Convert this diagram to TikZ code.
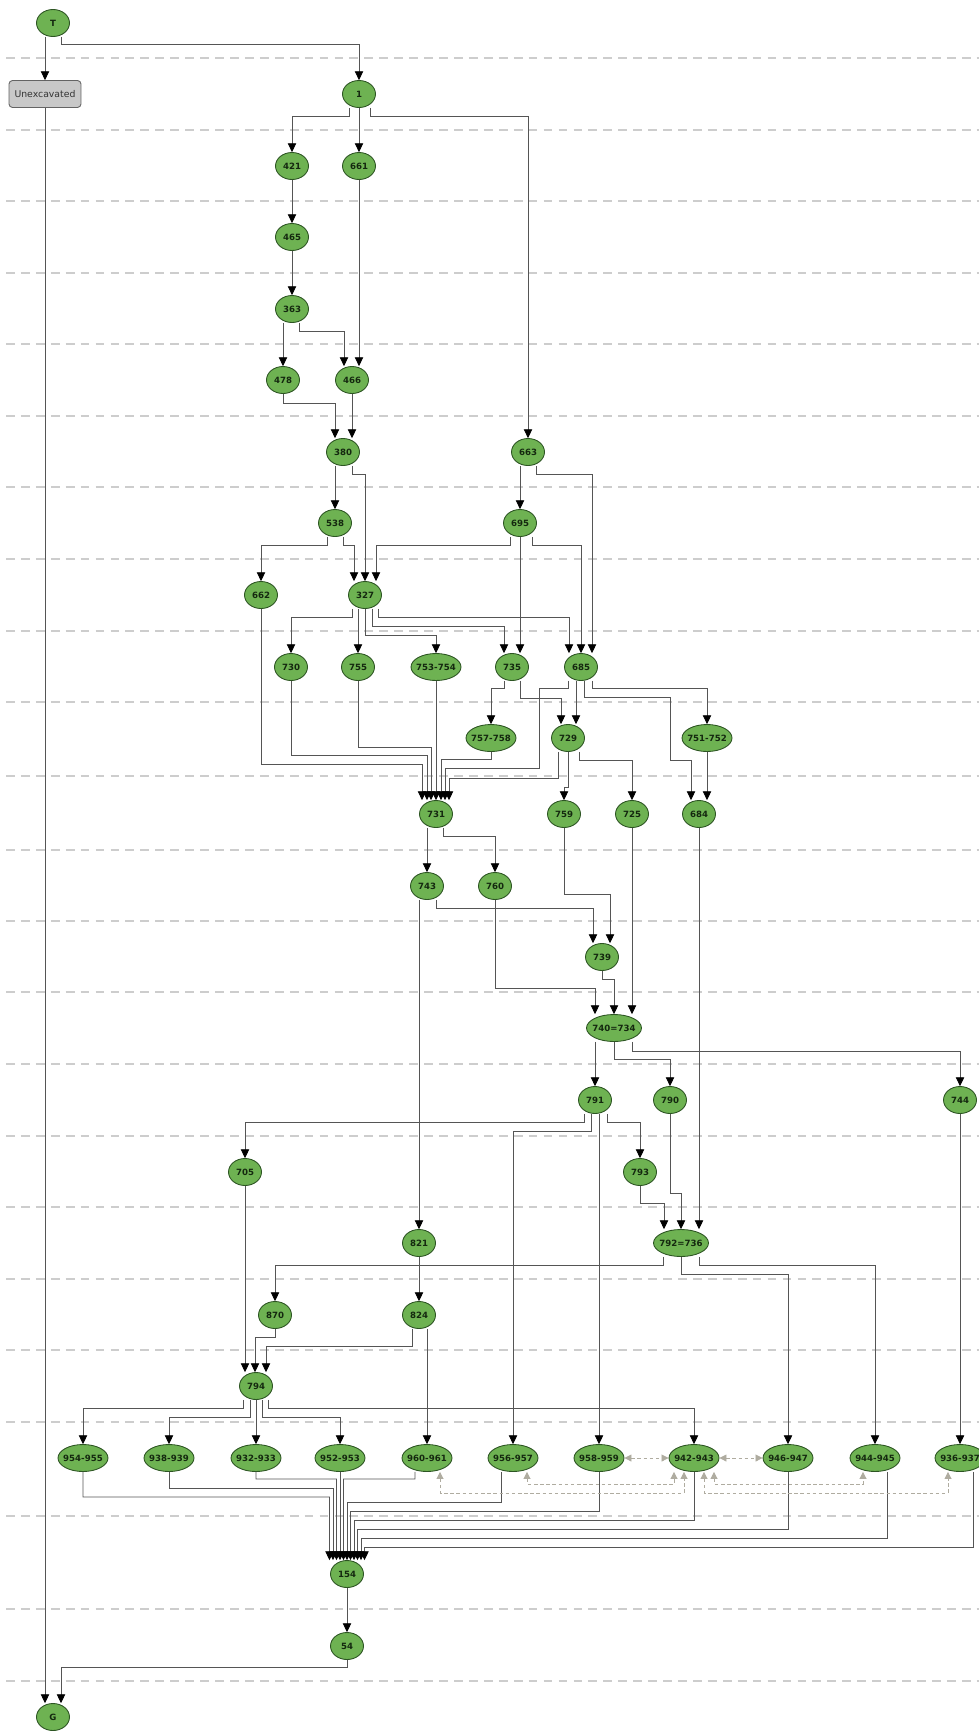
\documentclass[tikz,border=0pt]{standalone}
\usepackage{fontspec}
\usepackage{tikz}
\usetikzlibrary{shapes.geometric, arrows.meta, calc}
\newfontfamily\unitfont{DejaVu Sans}
\definecolor{unitfill}{RGB}{110,178,82}
\definecolor{unitedge}{RGB}{45,85,35}
\definecolor{unittext}{RGB}{20,40,15}
\definecolor{unexfill}{RGB}{200,200,200}
\definecolor{unexedge}{RGB}{100,100,100}
\definecolor{edgegray}{RGB}{85,85,85}
\definecolor{lanegray}{RGB}{205,205,205}
\definecolor{relgray}{RGB}{175,172,160}
\newcommand{\ulbl}[1]{\makebox[0pt]{#1}}
\tikzset{
  unit/.style={ellipse, draw=unitedge, fill=unitfill, text=unittext,
    minimum width=0.66cm, minimum height=0.54cm, inner sep=0pt,
    font=\unitfont\bfseries\fontsize{4.9}{6}\selectfont, line width=0.5pt},
  wideunit/.style={unit, minimum width=1.0cm},
  equnit/.style={unit, minimum width=1.1cm},
  greybox/.style={rectangle, rounded corners=2pt, draw=unexedge, fill=unexfill,
    text=black!80, minimum width=1.44cm, minimum height=0.54cm, inner sep=0pt,
    font=\unitfont\fontsize{5.3}{6}\selectfont, line width=0.5pt},
  strat/.style={draw=edgegray, line width=0.5pt,
    -{Triangle[width=4.8pt,length=5pt,color=black]}},
  contemp/.style={draw=relgray, line width=0.5pt, dash pattern=on 2pt off 1.5pt,
    {Triangle[width=4pt,length=4pt]}-{Triangle[width=4pt,length=4pt]}},
  lane/.style={draw=lanegray, line width=0.6pt, dash pattern=on 5pt off 3.5pt}
}
\begin{document}
\begin{tikzpicture}[x=0.02cm, y=-0.02cm]
  \useasboundingbox (0,0) rectangle (979,1731);
  \clip (0,0) rectangle (979,1731);
  % Lanes
  \foreach \y in {58,130,201,273,344,416,487,559,631,702,776,850,921,992,1064,1136,1207,1279,1350,1422,1516,1609,1681}
    \draw[lane] (6,\y) -- (979,\y);
  % Units
  \node[unit] (uT) at (53,23) {T};
  \node[greybox] (uUnex) at (45,94) {Unexcavated};
  \node[unit] (u1) at (359,94) {1};
  \node[unit] (u421) at (292,166) {421};  \node[unit] (u661) at (359,166) {661};
  \node[unit] (u465) at (292,237) {465};
  \node[unit] (u363) at (292,309) {363};
  \node[unit] (u478) at (283,380) {478};  \node[unit] (u466) at (352,380) {466};
  \node[unit] (u380) at (343,452) {380};  \node[unit] (u663) at (528,452) {663};
  \node[unit] (u538) at (335,523) {538};  \node[unit] (u695) at (520,523) {695};
  \node[unit] (u662) at (261,595) {662};  \node[unit] (u327) at (365,595) {327};
  \node[unit] (u730) at (291,667) {730};  \node[unit] (u755) at (358,667) {755};
  \node[wideunit] (u753) at (436,667) {\ulbl{753-754}};
  \node[unit] (u735) at (512,667) {735};  \node[unit] (u685) at (581,667) {685};
  \node[wideunit] (u757) at (491,738) {\ulbl{757-758}};
  \node[unit] (u729) at (568,738) {729};
  \node[wideunit] (u751) at (707,738) {\ulbl{751-752}};
  \node[unit] (u731) at (436,814) {731};  \node[unit] (u759) at (564,814) {759};
  \node[unit] (u725) at (632,814) {725};  \node[unit] (u684) at (699,814) {684};
  \node[unit] (u743) at (427,886) {743};  \node[unit] (u760) at (495,886) {760};
  \node[unit] (u739) at (602,957) {739};
  \node[equnit] (u740) at (614,1028) {\ulbl{740=734}};
  \node[unit] (u791) at (595,1100) {791};  \node[unit] (u790) at (670,1100) {790};
  \node[unit] (u744) at (960,1100) {744};
  \node[unit] (u705) at (245,1172) {705};  \node[unit] (u793) at (640,1172) {793};
  \node[unit] (u821) at (419,1243) {821};
  \node[equnit] (u792) at (681,1243) {\ulbl{792=736}};
  \node[unit] (u870) at (275,1315) {870};  \node[unit] (u824) at (419,1315) {824};
  \node[unit] (u794) at (256,1386) {794};
  \node[wideunit] (u954) at (83,1458) {\ulbl{954-955}};
  \node[wideunit] (u938) at (169,1458) {\ulbl{938-939}};
  \node[wideunit] (u932) at (256,1458) {\ulbl{932-933}};
  \node[wideunit] (u952) at (340,1458) {\ulbl{952-953}};
  \node[wideunit] (u960) at (427,1458) {\ulbl{960-961}};
  \node[wideunit] (u956) at (513,1458) {\ulbl{956-957}};
  \node[wideunit] (u958) at (599,1458) {\ulbl{958-959}};
  \node[wideunit] (u942) at (694,1458) {\ulbl{942-943}};
  \node[wideunit] (u946) at (788,1458) {\ulbl{946-947}};
  \node[wideunit] (u944) at (875,1458) {\ulbl{944-945}};
  \node[wideunit] (u936) at (960,1458) {\ulbl{936-937}};
  \node[unit] (u154) at (347,1574) {154};
  \node[unit] (u54) at (347,1646) {54};
  \node[unit] (uG) at (53,1717) {G};
  % Upper sequence
  \draw[strat] ($(uT.south)+(-8,0)$) -- (uUnex.north);
  \draw[strat] ($(uT.south)+(8,0)$) |- (359,44) -- (u1.north);
  \draw[strat] ($(u1.south)+(-10,0)$) |- (292,116) -- (u421.north);
  \draw[strat] (u1.south) -- (u661.north);
  \draw[strat] ($(u1.south)+(11,0)$) |- (528,116) -- (u663.north);
  \draw[strat] (u421.south) -- (u465.north);
  \draw[strat] (u465.south) -- (u363.north);
  \draw[strat] ($(u363.south)+(-9,0)$) -- (u478.north);
  \draw[strat] ($(u363.south)+(7,0)$) |- (344,331) -- ($(u466.north)+(-8,0)$);
  \draw[strat] (u661.south) -- ($(u466.north)+(7,0)$);
  \draw[strat] (u478.south) |- (335,403) -- ($(u380.north)+(-8,0)$);
  \draw[strat] (u466.south) -- ($(u380.north)+(9,0)$);
  \draw[strat] ($(u380.south)+(-8,0)$) -- (u538.north);
  \draw[strat] ($(u380.south)+(9,0)$) |- (365,474) -- (u327.north);
  \draw[strat] ($(u663.south)+(-8,0)$) -- (u695.north);
  \draw[strat] ($(u663.south)+(8,0)$) |- (592,474) -- ($(u685.north)+(11,0)$);
  \draw[strat] ($(u538.south)+(-8,0)$) |- (261,545) -- (u662.north);
  \draw[strat] ($(u538.south)+(8,0)$) |- (354,545) -- ($(u327.north)+(-11,0)$);
  \draw[strat] ($(u695.south)+(-10,0)$) |- (376,545) -- ($(u327.north)+(11,0)$);
  \draw[strat] (u695.south) -- ($(u735.north)+(8,0)$);
  \draw[strat] ($(u695.south)+(12,0)$) |- (581,545) -- (u685.north);
  % From 327 and 685
  \draw[strat] ($(u327.south)+(-13,0)$) |- (291,617) -- (u730.north);
  \draw[strat] ($(u327.south)+(-7,0)$) -- (u755.north);
  \draw[strat] (u327.south) |- (436,635) -- (u753.north);
  \draw[strat] ($(u327.south)+(7,0)$) |- (504,626) -- ($(u735.north)+(-8,0)$);
  \draw[strat] ($(u327.south)+(13,0)$) |- (569,617) -- ($(u685.north)+(-12,0)$);
  \draw[strat] ($(u735.south)+(-8,0)$) |- (491,688) -- (u757.north);
  \draw[strat] ($(u735.south)+(8,0)$) |- (561,698) -- ($(u729.north)+(-7,0)$);
  \draw[strat] ($(u685.south)+(-5,0)$) -- ($(u729.north)+(8,0)$);
  \draw[strat] ($(u685.south)+(-13,0)$) |- (539,688) |- (445,768) -- ($(u731.north)+(9,0)$);
  \draw[strat] ($(u685.south)+(3,0)$) |- (670,697) |- (691,760) -- ($(u684.north)+(-8,0)$);
  \draw[strat] ($(u685.south)+(11,0)$) |- (707,688) -- (u751.north);
  \draw[strat] (u751.south) -- ($(u684.north)+(8,0)$);
  \draw[strat] ($(u729.south)+(-10,0)$) |- (449,778) -- ($(u731.north)+(13,0)$);
  \draw[strat] (u729.south) |- (564,787) -- (u759.north);
  \draw[strat] ($(u729.south)+(11,0)$) |- (632,760) -- (u725.north);
  % Into 731
  \draw[strat] (u662.south) |- (422,764) -- ($(u731.north)+(-14,0)$);
  \draw[strat] (u730.south) |- (427,755) -- ($(u731.north)+(-9,0)$);
  \draw[strat] (u755.south) |- (431,747) -- ($(u731.north)+(-5,0)$);
  \draw[strat] (u753.south) -- (u731.north);
  \draw[strat] (u757.south) |- (441,759) -- ($(u731.north)+(5,0)$);
  % Middle sequence
  \draw[strat] ($(u731.south)+(-9,0)$) -- (u743.north);
  \draw[strat] ($(u731.south)+(7,0)$) |- (495,836) -- (u760.north);
  \draw[strat] ($(u743.south)+(9,0)$) |- (593,908) -- ($(u739.north)+(-9,0)$);
  \draw[strat] ($(u743.south)+(-8,0)$) -- (u821.north);
  \draw[strat] (u759.south) |- (610,894) -- ($(u739.north)+(8,0)$);
  \draw[strat] (u760.south) |- (595,988) -- ($(u740.north)+(-19,0)$);
  \draw[strat] (u739.south) |- (614,979) -- (u740.north);
  \draw[strat] (u725.south) -- ($(u740.north)+(18,0)$);
  \draw[strat] (u684.south) -- ($(u792.north)+(18,0)$);
  \draw[strat] ($(u740.south)+(-19,0)$) -- (u791.north);
  \draw[strat] (u740.south) |- (670,1059) -- (u790.north);
  \draw[strat] ($(u740.south)+(18,0)$) |- (960,1051) -- (u744.north);
  \draw[strat] ($(u791.south)+(-11,0)$) |- (245,1122) -- (u705.north);
  \draw[strat] ($(u791.south)+(-4,0)$) |- (513,1131) -- (u956.north);
  \draw[strat] ($(u791.south)+(4,0)$) -- (u958.north);
  \draw[strat] ($(u791.south)+(12,0)$) |- (640,1122) -- (u793.north);
  \draw[strat] (u790.south) |- (681,1193) -- (u792.north);
  \draw[strat] (u793.south) |- (664,1203) -- ($(u792.north)+(-17,0)$);
  \draw[strat] (u744.south) -- (u936.north);
  \draw[strat] ($(u792.south)+(-18,0)$) |- (275,1265) -- (u870.north);
  \draw[strat] (u792.south) |- (788,1274) -- (u946.north);
  \draw[strat] ($(u792.south)+(18,0)$) |- (875,1265) -- (u944.north);
  \draw[strat] (u821.south) -- (u824.north);
  \draw[strat] (u705.south) -- ($(u794.north)+(-11,0)$);
  \draw[strat] (u870.south) |- (255,1337) -- ($(u794.north)+(-1,0)$);
  \draw[strat] ($(u824.south)+(-7,0)$) |- (266,1346) -- ($(u794.north)+(10,0)$);
  \draw[strat] ($(u824.south)+(8,0)$) -- (u960.north);
  \draw[strat] ($(u794.south)+(-13,0)$) |- (83,1408) -- (u954.north);
  \draw[strat] ($(u794.south)+(-6,0)$) |- (169,1417) -- (u938.north);
  \draw[strat] (u794.south) -- (u932.north);
  \draw[strat] ($(u794.south)+(6,0)$) |- (340,1417) -- (u952.north);
  \draw[strat] ($(u794.south)+(12,0)$) |- (694,1408) -- (u942.north);
  % Into 154
  \draw[strat] (u954.south) |- (329.5,1497) -- ($(u154.north)+(-17.5,0)$);
  \draw[strat] (u938.south) |- (333,1488) -- ($(u154.north)+(-14,0)$);
  \draw[strat] (u932.south) |- (336.5,1479) -- ($(u154.north)+(-10.5,0)$);
  \draw[strat] (u952.south) -- ($(u154.north)+(-7,0)$);
  \draw[strat] ($(u960.south)+(-12,0)$) |- (343.5,1479) -- ($(u154.north)+(-3.5,0)$);
  \draw[strat] ($(u956.south)+(-12,0)$) |- (347,1502) -- (u154.north);
  \draw[strat] (u958.south) |- (350.5,1511) -- ($(u154.north)+(3.5,0)$);
  \draw[strat] (u942.south) |- (354,1520) -- ($(u154.north)+(7,0)$);
  \draw[strat] (u946.south) |- (357.5,1529) -- ($(u154.north)+(10.5,0)$);
  \draw[strat] ($(u944.south)+(12,0)$) |- (361,1538) -- ($(u154.north)+(14,0)$);
  \draw[strat] ($(u936.south)+(13,0)$) |- (364.5,1547) -- ($(u154.north)+(17.5,0)$);
  % Base
  \draw[strat] (u154.south) -- (u54.north);
  \draw[strat] (u54.south) |- (61,1667) -- ($(uG.north)+(8,0)$);
  \draw[strat] (uUnex.south) -- ($(uG.north)+(-8,0)$);
  % Contemporary units
  \draw[contemp] (u958.east) -- (u942.west);
  \draw[contemp] (u942.east) -- (u946.west);
  \draw[contemp] ($(u956.south)+(14,0)$) |- (674,1484) -- ($(u942.south)+(-20,0)$);
  \draw[contemp] ($(u960.south)+(13,0)$) |- (684,1493) -- ($(u942.south)+(-10,0)$);
  \draw[contemp] ($(u942.south)+(20,0)$) |- (863,1484) -- ($(u944.south)+(-12,0)$);
  \draw[contemp] ($(u942.south)+(10,0)$) |- (948,1493) -- ($(u936.south)+(-12,0)$);
\end{tikzpicture}
\end{document}
